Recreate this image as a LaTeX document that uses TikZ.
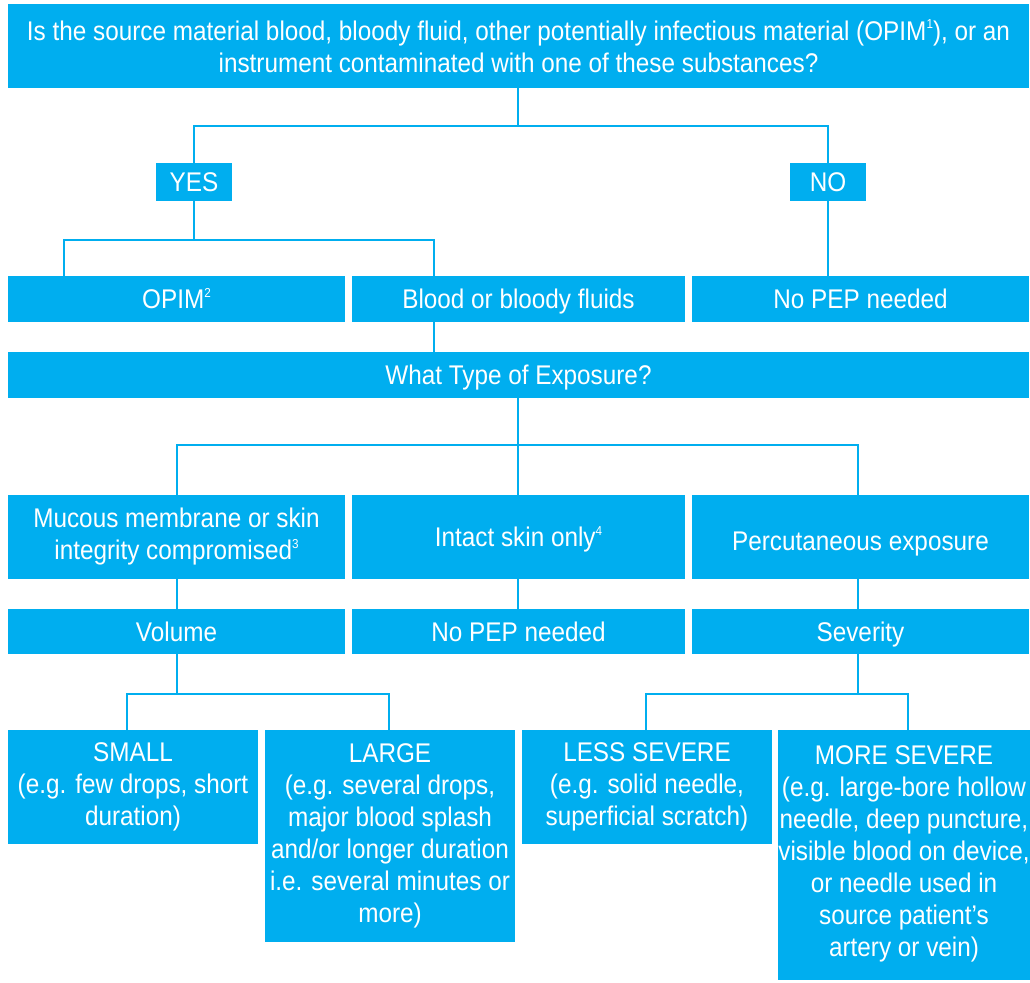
\documentclass[tikz,border=0pt]{standalone}
\usepackage{fontspec}
\setmainfont{Liberation Sans}[FakeStretch=0.9]
\definecolor{cy}{HTML}{00AEEF}
\newcommand\sups[1]{\raisebox{0.42em}{\fontsize{13}{13}\selectfont #1}}
\begin{document}
\begin{tikzpicture}[x=1pt,y=-1pt,
  box/.style={fill=cy,text=white,inner sep=0pt,align=center,
    font=\fontsize{27}{32}\selectfont},
  one/.style={text height=19.3pt,text depth=0pt},
  conn/.style={draw=cy,line width=2pt}]
\useasboundingbox (0,0) rectangle (1030,982);
% boxes
\node[box,minimum width=1021,minimum height=84] (top) at (518.5,46)
  {Is the source material blood, bloody fluid, other potentially infectious material (OPIM\sups{1}), or an\\instrument contaminated with one of these substances?};
\node[box,one,minimum width=76,minimum height=38] (yes) at (194,182) {YES};
\node[box,one,minimum width=76,minimum height=38] (no) at (828,182) {NO};
\node[box,one,minimum width=337,minimum height=46] (opim) at (176.5,299) {OPIM\sups{2}};
\node[box,one,minimum width=333,minimum height=46] (blood) at (518.5,299) {Blood or bloody fluids};
\node[box,one,minimum width=337,minimum height=46] (nopep1) at (860.5,299) {No PEP needed};
\node[box,one,minimum width=1021,minimum height=46] (what) at (518.5,375) {What Type of Exposure?};
\node[box,minimum width=337,minimum height=84] (mucous) at (176.5,537) {Mucous membrane or skin\\integrity compromised\sups{3}};
\node[box,one,minimum width=333,minimum height=84] (intact) at (518.5,537) {Intact skin only\sups{4}};
\node[box,text height=27.3pt,text depth=0pt,minimum width=337,minimum height=84] (perc) at (860.5,537) {Percutaneous exposure};
\node[box,one,minimum width=337,minimum height=45] (volume) at (176.5,631.5) {Volume};
\node[box,one,minimum width=333,minimum height=45] (nopep2) at (518.5,631.5) {No PEP needed};
\node[box,one,minimum width=337,minimum height=45] (severity) at (860.5,631.5) {Severity};
\node[box,minimum width=250,minimum height=114] (small) at (133,787)
  {SMALL\\(e.g. few drops, short\\duration)};
\node[box,minimum width=250,minimum height=212] (large) at (390,836)
  {LARGE\\(e.g. several drops,\\major blood splash\\and/or longer duration\\i.e. several minutes or\\more)};
\node[box,minimum width=250,minimum height=114] (less) at (647,787)
  {LESS SEVERE\\(e.g. solid needle,\\superficial scratch)};
\node[box,minimum width=250,minimum height=250] (more) at (904,855)
  {MORE SEVERE\\(e.g. large-bore hollow\\needle, deep puncture,\\visible blood on device,\\or needle used in\\source patient’s\\artery or vein)\\[-25pt]\mbox{}};
% junction coordinates
\coordinate (j1) at (518,126);
\coordinate (j2) at (194,240);
\coordinate (j2l) at (64,240);
\coordinate (j2r) at (434,240);
\coordinate (j3) at (518,445);
\coordinate (j3l) at (177,445);
\coordinate (j3r) at (858,445);
\coordinate (j4l) at (127,694);
\coordinate (j4r) at (389,694);
\coordinate (j5l) at (646,694);
\coordinate (j5r) at (908,694);
% connectors
\draw[conn] (top.south -| j1) -- (j1);
\draw[conn] (yes.north) |- (j1) -| (no.north);
\draw[conn] (no.south) -- (nopep1.north -| no.south);
\draw[conn] (yes.south) -- (j2);
\draw[conn] (opim.north -| j2l) -- (j2l) -- (j2r) -- (blood.north -| j2r);
\draw[conn] (blood.south -| j2r) -- (what.north -| j2r);
\draw[conn] (what.south -| j3) -- (j3);
\draw[conn] (mucous.north -| j3l) -- (j3l) -- (j3r) -- (perc.north -| j3r);
\draw[conn] (j3) -- (intact.north -| j3);
\draw[conn] (mucous.south -| j3l) -- (volume.north -| j3l);
\draw[conn] (intact.south -| j3) -- (nopep2.north -| j3);
\draw[conn] (perc.south -| j3r) -- (severity.north -| j3r);
\draw[conn] (volume.south -| j3l) -- (j3l |- j4l);
\draw[conn] (small.north -| j4l) -- (j4l) -- (j4r) -- (large.north -| j4r);
\draw[conn] (severity.south -| j3r) -- (j3r |- j5l);
\draw[conn] (less.north -| j5l) -- (j5l) -- (j5r) -- (more.north -| j5r);
\end{tikzpicture}
\end{document}
